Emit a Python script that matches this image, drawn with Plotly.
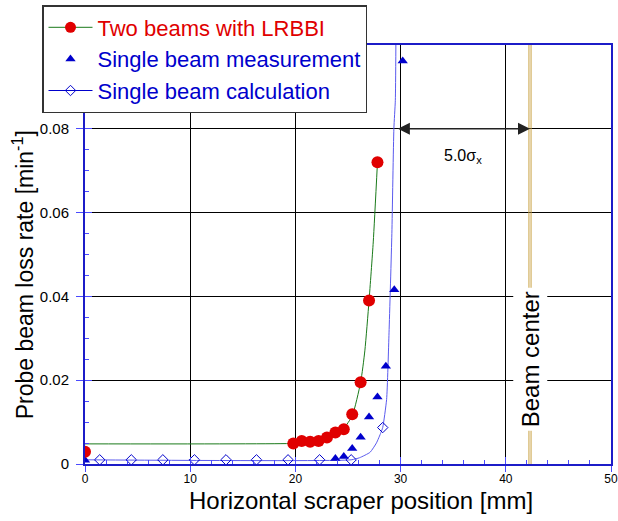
import plotly.graph_objects as go

# Two beams with LRBBI (measured)
two_x = [0.0, 19.8, 20.6, 21.4, 22.2, 23.0, 23.8, 24.6, 25.4, 26.2, 27.0, 27.8]
two_y = [0.0029, 0.0049, 0.0055, 0.0053, 0.0055, 0.0063, 0.0075, 0.0083, 0.0119, 0.0195, 0.039, 0.072]
# green fit curve
fit_x = [0.0, 19.8, 21.0, 22.0, 23.0, 24.0, 24.6, 25.4, 26.2, 26.6, 27.0, 27.4, 27.8]
fit_y = [0.0048, 0.0049, 0.0051, 0.0054, 0.0060, 0.0072, 0.0085, 0.0115, 0.0195, 0.027, 0.039, 0.053, 0.072]

# Single beam measurement
sm_x = [0.0, 23.8, 24.6, 25.4, 26.2, 27.0, 27.8, 28.6, 29.4, 30.2]
sm_y = [0.0009, 0.0013, 0.0018, 0.0037, 0.0064, 0.0112, 0.016, 0.0233, 0.0416, 0.0962]

# Single beam calculation (markers)
sc_x = [1.4, 4.4, 7.4, 10.4, 13.4, 16.3, 19.3, 22.3, 25.3, 28.3]
sc_y = [0.001, 0.001, 0.001, 0.001, 0.001, 0.001, 0.001, 0.001, 0.001, 0.0087]
# calculation curve
cc_x = [0.0, 25.3, 26.1, 27.1, 27.7, 28.13, 28.3, 28.67, 28.9, 29.17, 29.36, 29.5, 29.55]
cc_y = [0.001, 0.001, 0.0015, 0.0028, 0.005, 0.0075, 0.0087, 0.0154, 0.0313, 0.055, 0.08, 0.0868, 0.1]

beam_center = 42.3
arrow_start = 29.6
arrow_y = 0.08

x_ticks = [0, 10, 20, 30, 40, 50]
y_ticks = [0, 0.02, 0.04, 0.06, 0.08]
y_ticktext = ["0", "0.02", "0.04", "0.06", "0.08"]

FONT = "Liberation Sans, Arial, sans-serif"
RED = "#e00000"
BLUE = "#0000cc"
GREEN = "#1a7a1a"
CALC = "#5a5aee"
AXIS = "#1c1cc8"
GOLD = "#c8a040"
TICK = "#4a4aff"

W, H = 618, 521
ML, MR, MT, MB = 84.5, 6.5, 45, 56.5
PW, PH = W - ML - MR, H - MT - MB

fig = go.Figure()

fig.add_trace(go.Scatter(x=fit_x, y=fit_y, mode="lines", line=dict(color=GREEN, width=1, shape="spline", smoothing=0.6),
                         showlegend=False, hoverinfo="skip"))
fig.add_trace(go.Scatter(x=cc_x, y=cc_y, mode="lines", line=dict(color=CALC, width=1, shape="spline", smoothing=0.5),
                         showlegend=False, hoverinfo="skip"))
fig.add_trace(go.Scatter(x=sc_x, y=sc_y, mode="markers",
                         marker=dict(symbol="diamond-open", size=8, color=BLUE, line=dict(width=1)),
                         showlegend=False))
fig.add_trace(go.Scatter(x=sm_x, y=sm_y, mode="markers",
                         marker=dict(symbol="triangle-up", size=9, color=BLUE),
                         showlegend=False))
fig.add_trace(go.Scatter(x=two_x, y=two_y, mode="markers",
                         marker=dict(symbol="circle", size=12, color=RED),
                         showlegend=False))

# legend entries
fig.add_trace(go.Scatter(x=[None], y=[None], mode="lines+markers",
                         line=dict(color=GREEN, width=1), marker=dict(symbol="circle", size=11, color=RED),
                         name="<span style='color:%s'>Two beams with LRBBI</span>" % RED))
fig.add_trace(go.Scatter(x=[None], y=[None], mode="markers",
                         marker=dict(symbol="triangle-up", size=9, color=BLUE),
                         name="<span style='color:%s'>Single beam measurement</span>" % BLUE))
fig.add_trace(go.Scatter(x=[None], y=[None], mode="lines+markers",
                         line=dict(color=BLUE, width=1), marker=dict(symbol="diamond-open", size=8, color=BLUE),
                         name="<span style='color:%s'>Single beam calculation</span>" % BLUE))

# dummy trace for inner-tick overlay axes
fig.add_trace(go.Scatter(x=[None], y=[None], xaxis="x2", yaxis="y2", showlegend=False, hoverinfo="skip"))

fig.update_layout(
    width=W, height=H,
    margin=dict(l=ML, r=MR, t=MT, b=MB, autoexpand=False),
    paper_bgcolor="white", plot_bgcolor="white",
    font=dict(family=FONT, color="black"),
    showlegend=True,
    legend=dict(x=42 / W, y=1 - 5 / H, xref="container", yref="container", xanchor="left", yanchor="top",
                bgcolor="white", bordercolor="#333333", borderwidth=1.5, itemwidth=44,
                font=dict(size=22, family=FONT), tracegroupgap=0),
    xaxis=dict(range=[0, 50], tickvals=x_ticks, showgrid=True, gridcolor="black", gridwidth=1,
               zeroline=False, showline=True, linecolor=AXIS, linewidth=1.5, mirror=True, automargin=False,
               ticks="outside", ticklen=6, tickcolor=TICK, tickwidth=1, ticklabelstandoff=-3,
               tickfont=dict(size=12, family=FONT)),
    yaxis=dict(range=[0, 0.1], tickvals=y_ticks, ticktext=y_ticktext, showgrid=True, gridcolor="black",
               gridwidth=1, zeroline=False, showline=True, linecolor=AXIS, linewidth=2, mirror=True, automargin=False,
               ticks="outside", ticklen=7, tickcolor=TICK, tickwidth=1, ticklabelstandoff=4,
               tickfont=dict(size=15, family=FONT)),
    xaxis2=dict(range=[0, 50], overlaying="x", anchor="y", tickvals=x_ticks, showticklabels=False,
                showgrid=False, zeroline=False, showline=False, ticks="inside", ticklen=7, automargin=False,
                tickcolor=TICK, minor=dict(dtick=2, tick0=0, ticks="inside", ticklen=4, tickcolor=TICK)),
    yaxis2=dict(range=[0, 0.1], overlaying="y", anchor="x", side="left", tickvals=y_ticks, showticklabels=False,
                showgrid=False, zeroline=False, showline=False, ticks="inside", ticklen=7, automargin=False,
                tickcolor=TICK, minor=dict(dtick=0.005, tick0=0, ticks="inside", ticklen=4, tickcolor=TICK)),
)

# axis titles as annotations
fig.add_annotation(x=(22 - ML) / PW, y=(H - MB - 275) / PH, xref="paper", yref="paper",
                   text="Probe beam loss rate [min<sup>-1</sup>]", textangle=-90, showarrow=False,
                   xanchor="center", yanchor="middle", font=dict(size=23, family=FONT, color="black"))
fig.add_annotation(x=(361 - ML) / PW, y=(H - MB - 501) / PH, xref="paper", yref="paper",
                   text="Horizontal scraper position [mm]", showarrow=False,
                   xanchor="center", yanchor="middle", font=dict(size=24, family=FONT, color="black"))

# beam center double line
for dx in (-0.1, 0.1):
    fig.add_shape(type="line", x0=beam_center + dx, x1=beam_center + dx, y0=0, y1=0.1, xref="x", yref="y",
                  line=dict(color=GOLD, width=1))

fig.add_annotation(x=beam_center, y=0.025, xref="x", yref="y", text="Beam center", textangle=-90,
                   showarrow=False, bgcolor="white", borderpad=3, font=dict(size=24, family=FONT, color="black"))

# double-headed arrow
fig.add_annotation(x=beam_center, y=arrow_y, ax=arrow_start, ay=arrow_y, xref="x", yref="y", axref="x", ayref="y",
                   text="", showarrow=True, arrowhead=2, startarrowhead=2, arrowside="end+start",
                   arrowsize=1.6, startarrowsize=1.6, arrowwidth=1.5, arrowcolor="#222222")
fig.add_annotation(x=35.9, y=0.0735, xref="x", yref="y", text="5.0σ<sub>x</sub>", showarrow=False,
                   font=dict(size=16, family=FONT, color="black"))

fig.write_html("out.html", config={"displayModeBar": False},
               post_script="document.body.style.margin='0px';")
